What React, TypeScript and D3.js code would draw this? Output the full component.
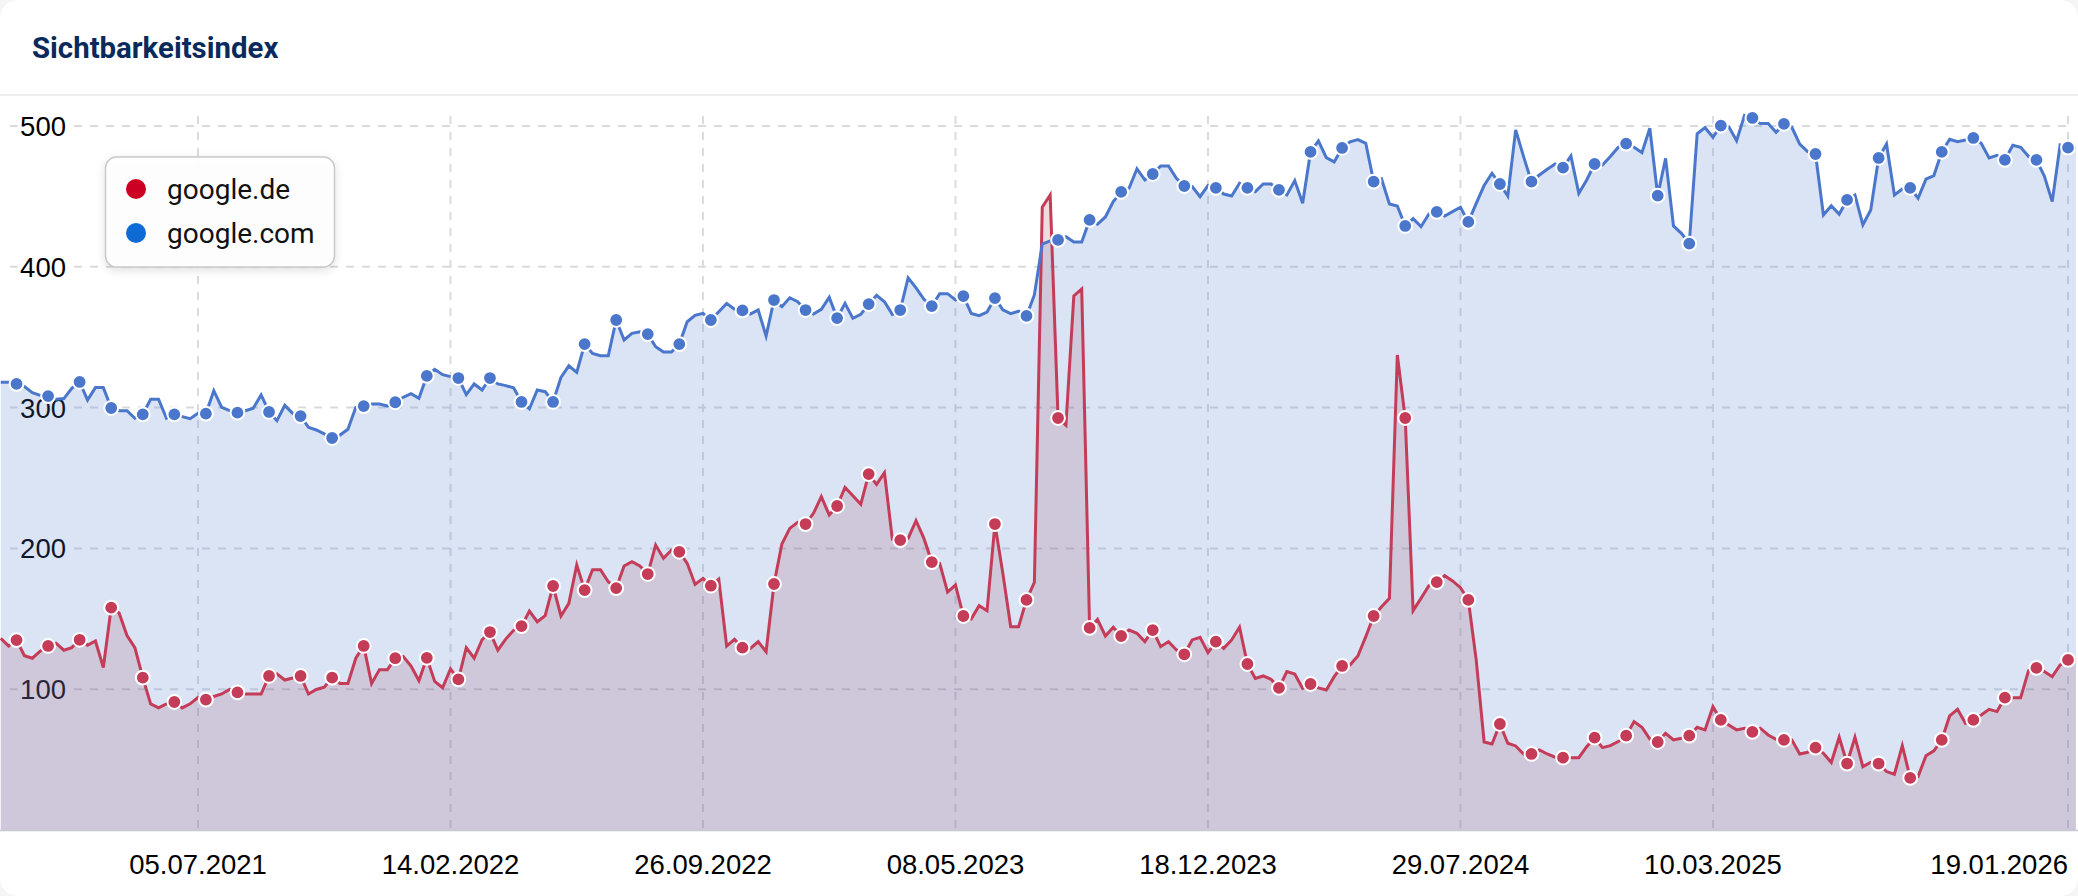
import React, { useEffect, useRef } from "react";
import * as d3 from "d3";

const title = "Sichtbarkeitsindex";
const seriesNames = ["google.de", "google.com"];
const yTicks = [100, 200, 300, 400, 500];
const xTickLabels = ["05.07.2021", "14.02.2022", "26.09.2022", "08.05.2023", "18.12.2023", "29.07.2024", "10.03.2025", "19.01.2026"];

const googleCom = [
  318, 318, 316.8, 314.9, 310.6, 308.7, 308.2, 305.9, 306.4, 313.7, 318.2, 305.4, 314.2, 314.2, 299.7, 297.8,
  297.8, 292.4, 295.2, 305.9, 305.9, 292.4, 295.2, 293.6, 292.1, 295.9, 295.7, 312, 300.2, 297.8, 296.4, 297.8,
  299.5, 309, 296.9, 290.7, 301.6, 295.9, 294, 286, 284.1, 281.3, 278.4, 280.5, 284.6, 300.2, 301.1, 302.6,
  302.6, 301.1, 303.8, 307.3, 309.9, 306.6, 322.5, 327.2, 323.4, 322, 321, 309.2, 316.8, 312.5, 321, 316.8,
  315.6, 314, 304, 299.2, 312.5, 311.3, 304, 321.5, 329.7, 325, 345.1, 338.5, 336.9, 336.9, 362.2, 348,
  352.7, 353.9, 352.2, 343.2, 339.5, 339.5, 345.1, 361, 365.5, 366.9, 362.2, 368.1, 374, 369.8, 369, 366.4,
  369.3, 350.8, 376.4, 371.7, 378, 375.2, 369.3, 366.4, 369.8, 378.3, 363.6, 374, 363.4, 366.2, 373.5, 379.7,
  375.2, 366.2, 369.3, 392.2, 385.1, 376.9, 372.1, 380.9, 380.9, 376.4, 379.2, 366.9, 365.3, 367.9, 377.8, 369.5,
  366.7, 368.5, 365.1, 380, 416.2, 418.4, 419.1, 421.4, 417.6, 417.6, 433.3, 430.2, 435.4, 446.3, 453.2, 455.8,
  469.5, 461.7, 465.9, 471.6, 471.6, 462.9, 457.4, 457, 449.8, 457.7, 456, 451.7, 450.3, 459.3, 456, 453.4,
  458.8, 458.8, 454.6, 451, 461.2, 445.1, 481.6, 489.4, 477.5, 474.5, 484.4, 488.7, 490.3, 487.7, 460.5, 462.4,
  444.6, 443.2, 429, 434.2, 428.5, 437.5, 439, 436.1, 439.2, 442.3, 431.9, 445.1, 457.7, 466.4, 458.8, 450.3,
  497.2, 478.3, 460.5, 465.2, 469.3, 473, 470.4, 478.7, 452.2, 461.7, 473, 472.3, 478.3, 484.9, 487.5, 484.9,
  481.1, 498.4, 450.6, 477, 429, 423.8, 416.5, 494.4, 498.8, 492, 500.3, 499.6, 489.6, 507.6, 505.7, 501.7,
  501.7, 495.5, 501.5, 499.1, 487.2, 481.8, 480.1, 436.8, 443.4, 437.3, 447.5, 451, 429.7, 440.4, 477.3, 487.2,
  451, 455.3, 456, 448.7, 462.2, 464.8, 481.6, 490.6, 488.9, 490.1, 491.5, 487.7, 477.3, 479.2, 475.9, 486.3,
  484.9, 478.3, 475.9, 464.5, 446.3, 486.5, 484.6, 484.6,
];

const googleDe = [
  136.1, 130.7, 134.9, 123.8, 122, 127, 130.7, 132.7, 127.7, 129.5, 135.1, 131.2, 134.2, 115.4, 157.9, 154.2,
  138.1, 129.5, 108.2, 89.6, 86.7, 89.6, 90.9, 86.7, 89.6, 94.1, 92.6, 94.8, 96.6, 99.8, 97.8, 96.6,
  96.6, 96.6, 109.4, 110.9, 106.5, 107.9, 109.4, 96.6, 99.8, 101.5, 108.2, 104, 104, 122, 130.7, 104,
  113.9, 113.9, 122, 123.3, 116.4, 106, 122.3, 105.5, 101, 114.4, 107, 129.5, 122, 135.1, 140.6, 127.7,
  135.6, 141.8, 144.8, 155.5, 147.9, 152.2, 173.3, 152, 161, 188.2, 170.4, 184.9, 184.9, 176.3, 171.8, 187.5,
  190.6, 187.5, 181.8, 202.4, 192.9, 198.8, 197.6, 189.4, 174.4, 178.7, 173.5, 178.2, 130.6, 135.4, 129.5, 129,
  133.7, 126.6, 174.7, 203.1, 214.2, 218.5, 217.3, 224.9, 236.7, 223.7, 230.1, 243.3, 237.4, 231.3, 252.8, 245.5,
  253.8, 206.4, 205.9, 207.1, 219.7, 207.1, 190.3, 189.4, 169, 174, 152, 150, 159.3, 155.7, 217.3, 182.3,
  144.4, 144.4, 163.4, 175.9, 442.3, 451, 292.6, 287.4, 379.3, 384.3, 143.5, 149.6, 137.8, 144, 137.8, 142,
  139.7, 133.8, 142, 130.2, 133.8, 127.9, 124.8, 135, 136.8, 126, 133.8, 129, 135, 144, 117.9, 107.7,
  109.4, 107, 100.9, 112.5, 110.8, 100.6, 103.7, 100.9, 99.4, 108.9, 116.5, 117.2, 123.6, 137.3, 152, 158.6,
  164.5, 337.4, 292.6, 155.8, 164.5, 173.5, 176.1, 180.6, 176.9, 172.1, 163.4, 120.7, 62.5, 61.1, 75.3, 61.6,
  59.7, 54, 54, 56.9, 54, 51.7, 51.4, 51.4, 51.4, 59.2, 65.6, 58.5, 59.9, 62.8, 67, 77,
  73, 64.7, 62.5, 68.7, 64, 65.2, 67, 73, 71.1, 87.6, 78.2, 74.6, 71.1, 72.3, 69.7, 72.3,
  67.5, 64.4, 64, 64, 54, 55.2, 58.5, 54.5, 47.9, 65.9, 47.2, 65.9, 45, 48.1, 47.2, 41.5,
  39.6, 59.9, 37, 37.9, 52.8, 56.2, 64, 81, 85.7, 75.8, 78.2, 81.7, 85.7, 84.1, 94, 94,
  94, 113.2, 115.1, 112.5, 108.9, 117.2, 120.8, 120.8,
];

const startDate = new Date(2021, 0, 11);
const parseDate = d3.timeParse("%d.%m.%Y");

const W = 2078;
const H = 896;
const BASE_Y = 830;
const TOP_Y = 126;
const COL_DE = "#c43c57";
const COL_COM = "#4a77cc";
const FILL_DE = "#b45058";
const LEG_DE = "#cc0022";
const LEG_COM = "#0e6bd6";

export default function App() {
  const ref = useRef<SVGSVGElement | null>(null);

  useEffect(() => {
    document.body.style.margin = "0";
    document.body.style.background = "#f4f5f7";
    const svg = d3.select(ref.current);
    svg.selectAll("*").remove();

    const dates = googleCom.map((_, i) => d3.timeWeek.offset(startDate, i));
    const tickDates = xTickLabels.map((s) => parseDate(s) as Date);

    const x = d3.scaleTime().domain([startDate, tickDates[tickDates.length - 1]]).range([0.75, 2068]);
    const y = d3.scaleLinear().domain([0, 500]).range([BASE_Y, TOP_Y]);

    const clip = svg.append("defs").append("clipPath").attr("id", "card");
    clip.append("rect").attr("x", 0).attr("y", 0).attr("width", W).attr("height", H).attr("rx", 18);
    const plotClip = svg.select("defs").append("clipPath").attr("id", "plot");
    plotClip.append("rect").attr("x", 0).attr("y", 96).attr("width", W).attr("height", BASE_Y - 96);

    const root = svg.append("g").attr("clip-path", "url(#card)");
    root.append("rect").attr("width", W).attr("height", H).attr("fill", "#fff");

    root.append("text").attr("x", 32).attr("y", 58)
      .attr("font-family", "Roboto").attr("font-weight", 700).attr("font-size", 29.4)
      .attr("fill", "#0a2a5c").text(title);
    root.append("line").attr("x1", 0).attr("x2", W).attr("y1", 95).attr("y2", 95)
      .attr("stroke", "#eeeeef").attr("stroke-width", 2);

    // grid
    const grid = root.append("g").attr("fill", "none").attr("stroke", "#dadbdf").attr("stroke-width", 2).attr("stroke-dasharray", "8 8");
    yTicks.forEach((t) => {
      grid.append("line").attr("x1", 10).attr("x2", 2068).attr("y1", y(t)).attr("y2", y(t));
    });
    tickDates.forEach((d) => {
      grid.append("line").attr("x1", x(d)).attr("x2", x(d)).attr("y1", 116).attr("y2", BASE_Y);
    });

    // y labels sit below the series
    const ylab = root.append("g");
    yTicks.forEach((t) => {
      ylab.append("rect").attr("x", 17.5).attr("width", 55).attr("y", y(t) - 3).attr("height", 6).attr("fill", "#fff");
      ylab.append("text").attr("x", 66).attr("y", y(t) + 10).attr("text-anchor", "end")
        .attr("font-family", "Liberation Sans").attr("font-size", 27.5).attr("fill", "#000").text(String(t));
    });

    const plot = root.append("g").attr("clip-path", "url(#plot)");

    const area = d3.area<number>().x((_, i) => x(dates[i])).y0(BASE_Y).y1((v) => y(v)).curve(d3.curveLinear);
    const line = d3.line<number>().x((_, i) => x(dates[i])).y((v) => y(v)).curve(d3.curveLinear);

    plot.append("path").attr("d", area(googleDe)).attr("fill", FILL_DE).attr("fill-opacity", 0.2);
    plot.append("path").attr("d", area(googleCom)).attr("fill", COL_COM).attr("fill-opacity", 0.2);
    [[googleDe, COL_DE], [googleCom, COL_COM]].forEach(([vals, col]) => {
      plot.append("path").attr("d", line(vals as number[])).attr("fill", "none")
        .attr("stroke", col as string).attr("stroke-width", 3).attr("stroke-linejoin", "miter");
    });
    [[googleDe, COL_DE], [googleCom, COL_COM]].forEach(([vals, col]) => {
      const pts = (vals as number[]).map((v, i) => ({ v, i })).filter((p) => p.i % 4 === 2);
      plot.append("g").selectAll("circle").data(pts).join("circle")
        .attr("cx", (p) => x(dates[p.i])).attr("cy", (p) => y(p.v)).attr("r", 6.9)
        .attr("fill", col as string).attr("stroke", "#fff").attr("stroke-width", 2);
    });

    root.append("line").attr("x1", 0).attr("x2", W).attr("y1", BASE_Y + 0.5).attr("y2", BASE_Y + 0.5)
      .attr("stroke", "#c8c8d0").attr("stroke-width", 1.5);

    // x labels
    xTickLabels.forEach((s, i) => {
      const last = i === xTickLabels.length - 1;
      root.append("text").attr("x", last ? 2068 : x(tickDates[i])).attr("y", 874)
        .attr("text-anchor", last ? "end" : "middle")
        .attr("font-family", "Liberation Sans").attr("font-size", 27.5).attr("fill", "#000").text(s);
    });

    // legend
    const leg = root.append("g");
    leg.append("rect").attr("x", 105.5).attr("y", 157).attr("width", 229).attr("height", 110).attr("rx", 11)
      .attr("fill", "rgba(255,255,255,0.92)").attr("stroke", "#c9c9c9").attr("stroke-width", 1.5)
      .style("filter", "drop-shadow(0 3px 5px rgba(0,0,0,0.12))");
    seriesNames.forEach((n, i) => {
      const cy = 189 + i * 44;
      leg.append("circle").attr("cx", 136).attr("cy", cy).attr("r", 10).attr("fill", i === 0 ? LEG_DE : LEG_COM);
      leg.append("text").attr("x", 167).attr("y", cy + 9.5)
        .attr("font-family", "Roboto").attr("font-size", 28).attr("fill", "#111").text(n);
    });
  }, []);

  return <svg ref={ref} width={W} height={H} style={{ display: "block", position: "absolute", left: 0, top: 0 }} />;
}
